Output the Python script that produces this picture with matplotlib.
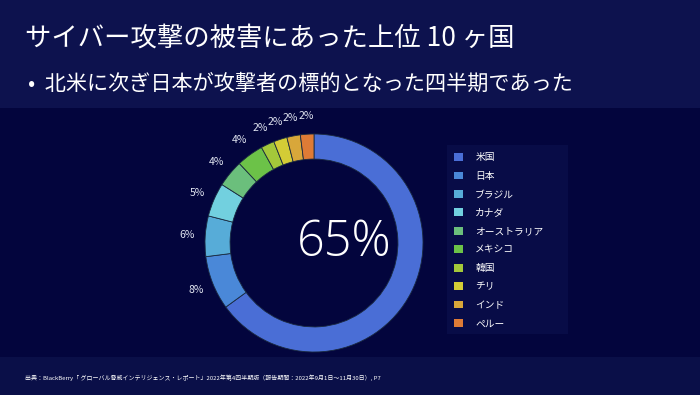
import matplotlib
matplotlib.use('Agg')
import matplotlib.pyplot as plt
from matplotlib.patches import Rectangle
import numpy as np

plt.rcParams['font.family'] = ['Noto Sans CJK JP', 'DejaVu Sans']

# Data
countries = ['米国', '日本', 'ブラジル', 'カナダ', 'オーストラリア',
             'メキシコ', '韓国', 'チリ', 'インド', 'ペルー']
shares = [65, 8, 6, 5, 4, 4, 2, 2, 2, 2]
colors = ['#4a6ed6', '#4a88d8', '#57acd8', '#72d0df', '#6bbf7c',
          '#6cc248', '#a4c83a', '#d3cc36', '#d8a73a', '#de7b36']

title = 'サイバー攻撃の被害にあった上位 10 ヶ国'
subtitle = '•  北米に次ぎ日本が攻撃者の標的となった四半期であった'
source = ('出典：BlackBerry「 グローバル脅威インテリジェンス・レポート」2022年第4四半期版'
          '（報告期間：2022年9月1日～11月30日）, P7')

W, H = 700, 395
BG_TOP = '#0d124e'
BG_MID = '#03053d'
BG_BOT = '#0a0f48'

fig = plt.figure(figsize=(W / 100, H / 100), dpi=100)
fig.patch.set_facecolor(BG_MID)

# background bands + legend panel
fig.patches.append(Rectangle((0, 1 - 108 / H), 1, 108 / H, transform=fig.transFigure,
                             facecolor=BG_TOP, edgecolor='none', zorder=0))
fig.patches.append(Rectangle((0, 0), 1, 38 / H, transform=fig.transFigure,
                             facecolor=BG_BOT, edgecolor='none', zorder=0))
fig.patches.append(Rectangle((447 / W, 1 - 334 / H), 121 / W, 189 / H,
                             transform=fig.transFigure, facecolor='#080c47',
                             edgecolor='none', zorder=0))

fig.text(25 / W, 1 - 38 / H, title, color='white', fontsize=19, va='center', ha='left')
fig.text(28 / W, 1 - 84 / H, subtitle, color='white', fontsize=15.2, va='center', ha='left')
fig.text(25 / W, 1 - 378 / H, source, color='white', fontsize=4.3, va='center', ha='left')

# donut
cx, cy, R, half = 314, 243, 109, 140
ax = fig.add_axes([(cx - half) / W, (H - cy - half) / H, 2 * half / W, 2 * half / H])
wedges, _ = ax.pie(shares, colors=colors, startangle=90, counterclock=False, radius=1,
                   wedgeprops=dict(width=0.23, edgecolor='#1a2a40', linewidth=0.6))
lim = half / R
ax.set_xlim(-lim, lim)
ax.set_ylim(-lim, lim)
ax.axis('off')

for w, v in zip(wedges[1:], shares[1:]):
    ang = np.deg2rad((w.theta1 + w.theta2) / 2)
    ax.text(1.165 * np.cos(ang), 1.165 * np.sin(ang), f'{v}%', color='#e0e4f0',
            fontsize=7.5, ha='center', va='center')

ax.text(0.28, 0.0, f'{shares[0]}%', color='white', fontsize=35, ha='center',
        va='center', family=['Open Sans'], fontweight='light')

leg = fig.legend(wedges, countries, loc='upper left',
                 bbox_to_anchor=(447 / W, 1 - 145 / H), frameon=False,
                 fontsize=7, labelcolor='white', handlelength=0.85, handleheight=0.85,
                 handletextpad=1.3, labelspacing=0.87, borderpad=0.75,
                 borderaxespad=0)
for h in leg.legend_handles:
    h.set_edgecolor('none')

fig.savefig('out.png', dpi=100, facecolor=fig.get_facecolor())
